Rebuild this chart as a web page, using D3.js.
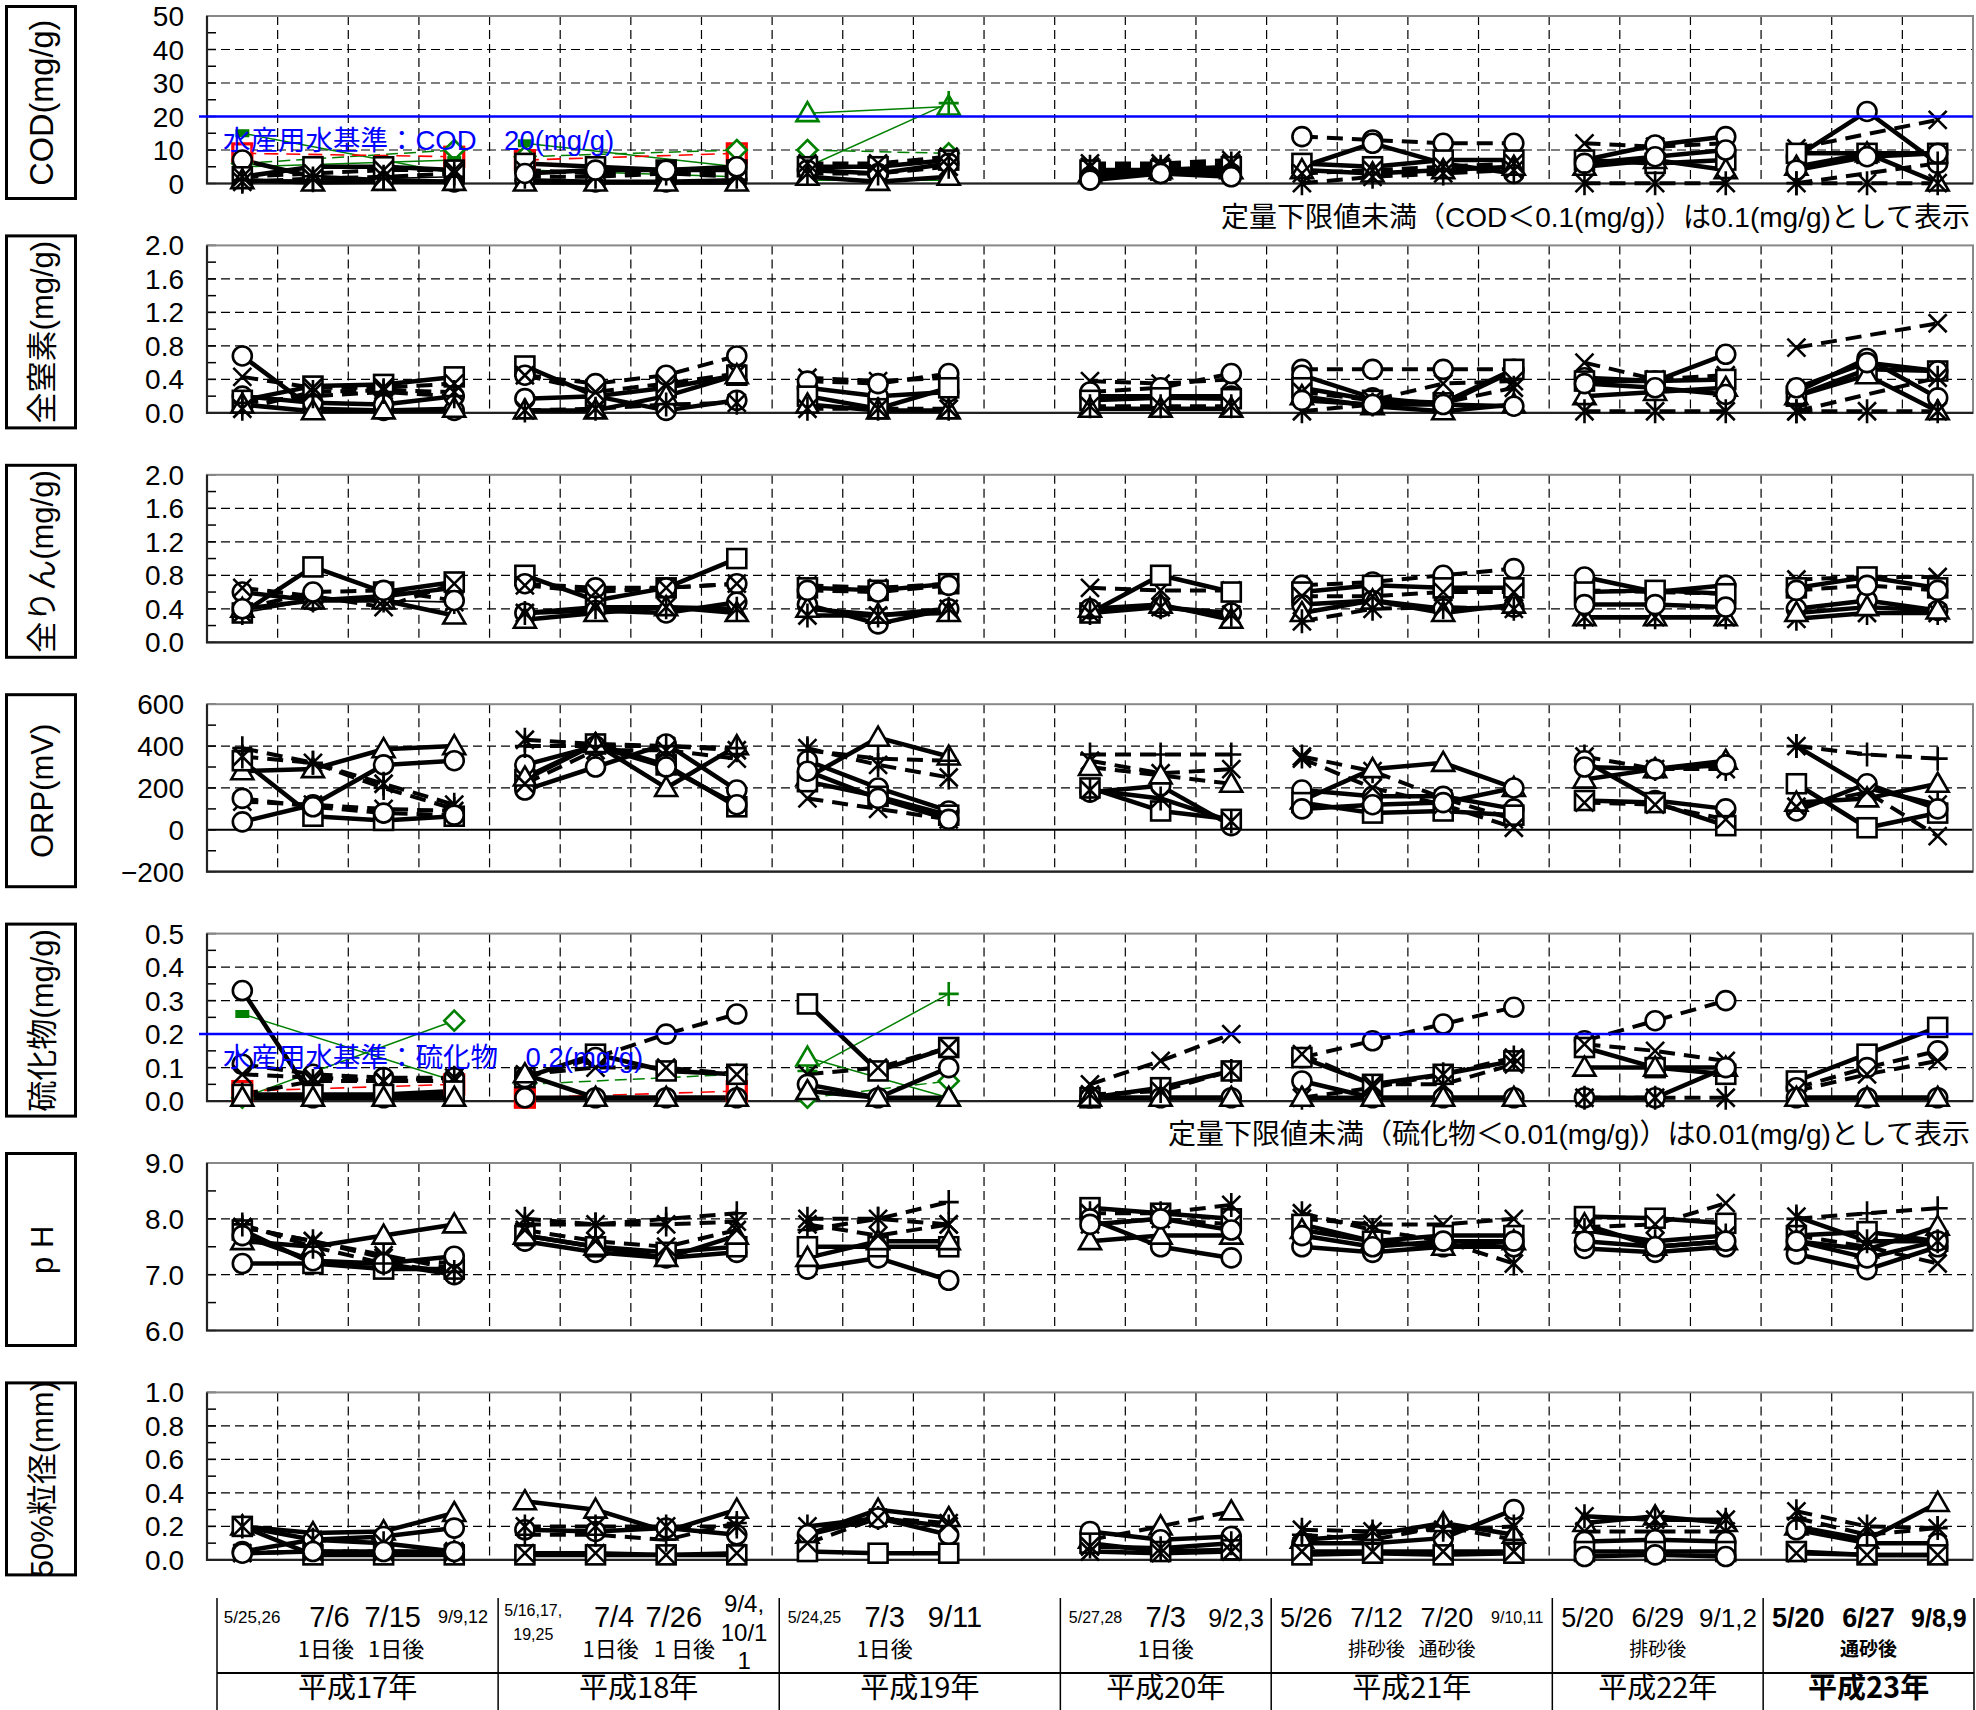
<!DOCTYPE html>
<html><head><meta charset="utf-8">
<script src="https://cdn.jsdelivr.net/npm/d3@7"></script>
<style>body{margin:0;background:#fff}svg{display:block}</style>
</head><body><svg id="c" width="1976" height="1710"></svg>
<script>
// ---------------- DATA ----------------
const years = ["平成17年","平成18年","平成19年","平成20年","平成21年","平成22年","平成23年"];
const yearCols = [[0,1,2,3],[4,5,6,7],[8,9,10],[12,13,14],[15,16,17,18],[19,20,21],[22,23,24]];
const yearSpan = [[0,4],[4,8],[8,12],[12,15],[15,19],[19,22],[22,25]];
const panelTitles = ["COD(mg/g)","全窒素(mg/g)","全りん(mg/g)","ORP(mV)","硫化物(mg/g)","p H","50%粒径(mm)"];
const panelDomains = [[0,50],[0,2],[0,2],[-200,600],[0,0.5],[6,9],[0,1]];
const panelSteps = [10,0.4,0.4,200,0.1,1,0.2];
const panelFormats = ["d",".1f",".1f","d",".1f",".1f",".1f"];
// date labels: column (table units), text, size, baseline row, bold
const dateLabels = [
 [0,"5/25,26",17,1623,0],[1.1,"7/6",29,1627,0],[2,"7/15",29,1627,0],[3,"9/9,12",18,1623,0],
 [4,"5/16,17,",16,1616,0],[4,"19,25",16,1640,0],[5.15,"7/4",29,1627,0],[6,"7/26",29,1627,0],
 [7,"9/4,",24,1612,0],[7,"10/1",24,1641,0],[7,"1",24,1669,0],
 [8,"5/24,25",16,1623,0],[9,"7/3",29,1627,0],[10,"9/11",29,1627,0],
 [12,"5/27,28",16,1623,0],[13,"7/3",29,1627,0],[14,"9/2,3",25,1627,0],
 [15,"5/26",27,1627,0],[16,"7/12",27,1627,0],[17,"7/20",27,1627,0],[18,"9/10,11",16,1623,0],
 [19,"5/20",27,1627,0],[20,"6/29",27,1627,0],[21,"9/1,2",26,1627,0],
 [22,"5/20",27,1627,1],[23,"6/27",27,1627,1],[24,"9/8,9",25,1627,1]
];
const subLabels = [
 [1.05,"1日後",22,1657,0],[2.05,"1日後",22,1657,0],
 [5.1,"1日後",22,1657,0],[6.15,"1 日後",22,1657,0],
 [9,"1日後",22,1657,0],[13,"1日後",22,1657,0],
 [16,"排砂後",19,1656,0],[17,"通砂後",19,1656,0],
 [20,"排砂後",19,1656,0],[23,"通砂後",19,1656,1]
];
// series: [yearIndex, marker, style, values]
const codSeries = [
 [0,"s","R",[9,null,null,8]],[0,"d","GD",[6,null,null,10]],[0,"g","G",[15,null,null,3]],[0,"g","G",[5,null,null,7]],
 [0,"o","S",[7,2,1,0.5]],[0,"s","S",[2,5,5,4]],[0,"t","S",[1,0.3,0.5,0.5]],[0,"x","D",[2,3,4,4]],[0,"a","D",[0.5,1.5,2,3]],[0,"p","T",[1,1,1.5,2]],
 [1,"s","R",[7,null,null,9]],[1,"d","GD",[8,null,null,10]],[1,"g","G",[12,null,null,5]],[1,"g","G",[4,null,null,2]],
 [1,"o","S",[1,0.5,0.5,1]],[1,"s","S",[6,5,4,4]],[1,"t","S",[0.3,0.3,0.3,0.3]],[1,"x","D",[4,3,4,3]],[1,"a","D",[2,2,3,2]],[1,"o","S",[3,4,4,5]],
 [2,"t","G",[21,null,23]],[2,"p","G",[5,null,24]],[2,"d","GD",[10,null,9]],[2,"g","G",[1,null,1]],
 [2,"s","S",[5,5,7]],[2,"o","S",[4,3,6]],[2,"t","S",[2,0.5,2]],[2,"x","D",[6,6,8]],[2,"a","D",[3,3,5]],
 [3,"x","D",[6,6,7]],[3,"s","S",[4,4,5]],[3,"o","S",[2,3,3]],[3,"t","S",[3,4,4]],[3,"a","D",[5,5,6]],[3,"o","S",[1,3,2]],
 [4,"o","D",[14,13,12,12]],[4,"o","S",[5,12,6,3]],[4,"s","S",[6,5,7,7]],[4,"t","S",[4,3,4,5]],[4,"x","D",[3,4,5,6]],[4,"a","D",[0.1,2,3,4]],
 [5,"x","D",[12,11,12]],[5,"o","S",[7,11.5,14]],[5,"s","S",[7,6,7]],[5,"t","S",[5,7,4]],[5,"o","S",[6,8,10]],[5,"a","D",[0.1,0.1,0.1]],
 [6,"o","S",[8,21.5,6]],[6,"x","D",[10.5,null,19]],[6,"s","S",[9,9,9]],[6,"t","S",[5,9,0.3]],[6,"o","S",[4,8,9]],[6,"a","D",[0.1,0.1,0.1]],[6,"p","D",[0.1,null,6]]
];
const tnSeries = [
 [0,"o","S",[0.68,0.05,0.03,0.03]],[0,"o","S",[0.2,0.12,0.1,0.2]],[0,"s","S",[0.15,0.32,0.34,0.43]],[0,"t","S",[0.1,0.02,0.03,0.05]],[0,"x","D",[0.43,0.3,0.3,0.35]],[0,"a","D",[0.05,0.25,0.27,0.25]],[0,"p","D",[0.12,0.2,0.25,0.2]],
 [1,"s","S",[0.56,0.2,0.3,0.45]],[1,"o","S",[0.17,0.2,0.03,0.15]],[1,"o","D",[0.45,0.35,0.45,0.68]],[1,"x","D",[0.45,0.25,0.35,0.47]],[1,"t","S",[0.03,0.03,0.2,0.45]],[1,"a","D",[0.03,0.05,0.1,0.12]],
 [2,"x","D",[0.42,0.38,0.42]],[2,"o","S",[0.3,0.2,0.25]],[2,"o","D",[0.38,0.35,0.47]],[2,"s","S",[0.2,0.05,0.3]],[2,"t","S",[0.1,0.03,0.03]],[2,"a","D",[0.05,0.05,0.05]],
 [3,"x","D",[0.38,0.35,0.4]],[3,"o","S",[0.2,0.2,0.2]],[3,"o","D",[0.25,0.3,0.47]],[3,"s","S",[0.15,0.18,0.17]],[3,"t","S",[0.05,0.05,0.05]],[3,"a","D",[0.08,0.08,0.08]],
 [4,"o","D",[0.52,0.52,0.52,0.52]],[4,"o","S",[0.45,0.18,0.1,0.5]],[4,"s","S",[0.3,0.15,0.12,0.52]],[4,"t","S",[0.2,0.08,0.02,0.1]],[4,"x","D",[0.25,0.15,0.35,0.38]],[4,"a","D",[0.02,0.1,0.12,0.3]],[4,"o","S",[0.15,0.1,0.1,0.08]],
 [5,"x","D",[0.6,0.4,0.45]],[5,"o","S",[0.42,0.38,0.7]],[5,"s","S",[0.38,0.38,0.4]],[5,"t","S",[0.2,0.25,0.3]],[5,"o","S",[0.35,0.3,0.22]],[5,"a","D",[0.02,0.02,0.02]],
 [6,"x","D",[0.78,null,1.07]],[6,"o","S",[0.25,0.65,0.18]],[6,"s","S",[0.2,0.52,0.5]],[6,"t","S",[0.2,0.45,0.02]],[6,"o","S",[0.3,0.6,0.5]],[6,"a","D",[0.02,null,0.42]],[6,"a","D",[0.02,0.02,0.02]]
];
const tpSeries = [
 [0,"o","S",[0.6,0.5,0.55,0.65]],[0,"s","S",[0.35,0.9,0.6,0.72]],[0,"t","S",[0.4,0.5,0.5,0.32]],[0,"x","D",[0.65,0.55,0.42,0.7]],[0,"a","T",[0.35,0.5,0.5,0.48]],[0,"o","D",[0.4,0.6,0.62,0.5]],
 [1,"s","S",[0.8,0.5,0.65,1.0]],[1,"o","D",[0.7,0.65,0.65,0.7]],[1,"x","D",[0.68,0.6,0.65,0.7]],[1,"o","S",[0.35,0.38,0.35,0.48]],[1,"t","S",[0.27,0.35,0.42,0.35]],[1,"a","S",[0.35,0.42,0.42,0.4]],
 [2,"x","D",[0.68,0.65,0.7]],[2,"s","S",[0.65,0.62,0.7]],[2,"o","S",[0.45,0.22,0.4]],[2,"t","S",[0.4,0.33,0.35]],[2,"a","S",[0.32,0.32,0.4]],[2,"o","D",[0.62,0.6,0.68]],
 [3,"x","D",[0.65,0.62,0.62]],[3,"s","S",[0.35,0.8,0.6]],[3,"o","S",[0.4,0.42,0.35]],[3,"t","S",[0.4,0.45,0.27]],[3,"a","S",[0.35,0.42,0.33]],
 [4,"o","D",[0.68,0.72,0.8,0.88]],[4,"s","S",[0.6,0.68,0.65,0.65]],[4,"o","S",[0.45,0.5,0.4,0.42]],[4,"t","S",[0.35,0.5,0.35,0.45]],[4,"a","D",[0.25,0.4,0.42,0.4]],[4,"x","D",[0.55,0.55,0.6,0.6]],
 [5,"o","S",[0.78,0.6,0.68]],[5,"x","D",[0.62,0.6,0.58]],[5,"s","S",[0.6,0.62,0.58]],[5,"t","S",[0.3,0.3,0.3]],[5,"a","S",[0.3,0.3,0.3]],[5,"o","S",[0.45,0.45,0.42]],
 [6,"x","D",[0.75,0.78,0.78]],[6,"s","S",[0.65,0.78,0.65]],[6,"o","S",[0.4,0.5,0.38]],[6,"a","S",[0.28,0.35,0.35]],[6,"t","S",[0.35,0.42,0.38]],[6,"o","D",[0.62,0.68,0.62]]
];
const orpSeries = [
 [0,"t","S",[280,290,385,400]],[0,"o","S",[38,120,310,330]],[0,"s","S",[330,65,45,65]],[0,"a","D",[350,320,220,120]],[0,"p","D",[390,320,200,100]],[0,"x","D",[135,120,100,90]],[0,"o","D",[150,110,80,70]],
 [1,"a","D",[430,410,400,380]],[1,"s","S",[240,410,310,110]],[1,"o","S",[190,300,410,190]],[1,"o","S",[310,400,300,120]],[1,"t","S",[250,410,200,400]],[1,"x","D",[220,380,380,340]],[1,"p","D",[400,400,400,390]],
 [2,"a","D",[390,310,250]],[2,"t","S",[250,440,350]],[2,"o","S",[330,200,90]],[2,"s","S",[230,160,70]],[2,"x","D",[150,100,50]],[2,"o","S",[280,150,50]],[2,"p","D",[380,340,330]],
 [3,"p","D",[360,360,360]],[3,"x","D",[330,270,290]],[3,"o","S",[180,210,20]],[3,"s","S",[200,90,50]],[3,"t","D",[300,260,220]],[3,"a","S",[190,150,40]],
 [4,"a","D",[350,280,150,50]],[4,"t","S",[140,290,320,200]],[4,"o","S",[190,160,160,100]],[4,"s","S",[130,80,90,70]],[4,"x","D",[340,200,120,10]],[4,"o","S",[100,120,130,200]],
 [5,"a","D",[350,290,290]],[5,"t","S",[240,290,330]],[5,"o","S",[330,140,100]],[5,"s","S",[140,130,20]],[5,"x","D",[130,120,50]],[5,"o","S",[300,290,310]],
 [6,"p","D",[400,360,340]],[6,"a","S",[400,200,120]],[6,"s","S",[220,10,80]],[6,"o","S",[90,220,100]],[6,"t","S",[130,150,220]],[6,"x","D",[110,180,-30]]
];
const sulSeries = [
 [0,"s","R",[0.03,null,null,0.05]],[0,"g","G",[0.26,null,null,0.06]],[0,"d","G",[0.01,null,null,0.24]],
 [0,"o","S",[0.33,0.01,0.01,0.02]],[0,"o","D",[0.11,0.08,0.07,0.07]],[0,"x","D",[0.08,0.07,0.06,0.06]],[0,"a","D",[0.02,0.06,0.06,0.07]],[0,"s","S",[0.02,0.02,0.02,0.03]],[0,"t","S",[0.01,0.01,0.01,0.01]],
 [1,"d","GD",[0.05,null,null,0.08]],[1,"s","R",[0.01,null,null,0.03]],
 [1,"s","S",[0.07,0.14,0.09,0.08]],[1,"o","D",[0.07,0.13,0.2,0.26]],[1,"x","D",[0.08,0.1,0.1,0.08]],[1,"o","S",[0.01,0.01,0.01,0.01]],[1,"t","S",[0.08,0.01,0.01,0.01]],
 [2,"p","G",[0.09,null,0.32]],[2,"t","G",[0.13,null,0.01]],[2,"d","GD",[0.01,null,0.06]],
 [2,"s","S",[0.29,0.09,0.16]],[2,"x","D",[0.08,0.1,0.16]],[2,"o","S",[0.05,0.01,0.1]],[2,"t","S",[0.03,0.01,0.01]],
 [3,"x","D",[0.05,0.12,0.2]],[3,"s","S",[0.01,0.04,0.09]],[3,"o","S",[0.01,0.01,0.01]],[3,"t","S",[0.01,0.01,0.01]],[3,"a","D",[0.02,0.03,0.09]],
 [4,"o","D",[0.13,0.18,0.23,0.28]],[4,"s","S",[0.13,0.05,0.08,0.12]],[4,"o","S",[0.06,0.01,0.01,0.01]],[4,"x","D",[0.14,0.05,0.05,0.11]],[4,"a","D",[0.01,0.04,0.08,0.13]],[4,"t","S",[0.01,0.01,0.01,0.01]],
 [5,"o","D",[0.18,0.24,0.3]],[5,"s","S",[0.16,0.1,0.08]],[5,"t","S",[0.1,0.1,0.1]],[5,"x","D",[0.17,0.15,0.12]],[5,"o","S",[0.01,0.01,0.1]],[5,"a","D",[0.01,0.01,0.01]],
 [6,"s","S",[0.06,0.14,0.22]],[6,"o","D",[0.04,0.1,0.15]],[6,"x","D",[0.03,0.08,0.12]],[6,"o","S",[0.01,0.01,0.01]],[6,"t","S",[0.01,0.01,0.01]]
];
const phSeries = [
 [0,"t","S",[7.6,7.5,7.7,7.9]],[0,"o","S",[7.2,7.2,7.2,7.0]],[0,"s","S",[7.8,7.2,7.1,7.1]],[0,"x","D",[7.85,7.6,7.3,7.2]],[0,"a","D",[7.85,7.6,7.35,7.1]],[0,"o","S",[7.7,7.25,7.2,7.33]],[0,"p","D",[7.9,7.5,7.2,7.05]],
 [1,"a","D",[8.0,7.9,7.9,7.95]],[1,"p","D",[7.9,7.9,8.0,8.1]],[1,"o","S",[7.6,7.4,7.3,7.4]],[1,"s","S",[7.7,7.5,7.4,7.5]],[1,"t","S",[7.7,7.5,7.3,7.7]],[1,"x","D",[7.8,7.6,7.5,7.8]],
 [2,"a","D",[8.0,8.0,7.9]],[2,"p","D",[7.8,8.0,8.3]],[2,"o","S",[7.1,7.3,6.9]],[2,"s","S",[7.5,7.5,7.5]],[2,"t","S",[7.3,7.6,7.6]],[2,"x","D",[7.9,7.7,7.9]],
 [3,"s","S",[8.2,8.1,8.0]],[3,"a","D",[8.1,8.1,8.25]],[3,"o","S",[8.0,7.5,7.3]],[3,"t","S",[7.6,7.7,7.7]],[3,"x","D",[7.9,8.0,7.9]],[3,"o","S",[7.9,8.0,7.8]],
 [4,"a","D",[8.1,7.8,7.6,7.2]],[4,"x","D",[8.0,7.9,7.9,8.0]],[4,"o","S",[7.5,7.4,7.5,7.5]],[4,"s","S",[7.9,7.6,7.7,7.7]],[4,"t","S",[7.8,7.6,7.5,7.6]],[4,"o","S",[7.7,7.5,7.6,7.6]],
 [5,"s","S",[8.04,8.01,7.92]],[5,"x","D",[7.85,7.9,8.28]],[5,"o","S",[7.47,7.4,7.5]],[5,"t","S",[7.9,7.5,7.6]],[5,"a","S",[7.8,7.6,7.7]],[5,"o","S",[7.6,7.5,7.6]],
 [6,"p","D",[8.0,8.1,8.19]],[6,"s","S",[7.7,7.77,7.6]],[6,"o","S",[7.37,7.09,7.5]],[6,"t","S",[7.6,7.45,7.86]],[6,"x","D",[7.7,7.5,7.2]],[6,"o","S",[7.6,7.3,7.6]],[6,"a","S",[8.04,7.6,7.6]]
];
const d50Series = [
 [0,"t","S",[0.2,0.16,0.17,0.28]],[0,"o","S",[0.05,0.12,0.14,0.19]],[0,"s","S",[0.2,0.03,0.03,0.03]],[0,"x","D",[0.04,0.05,0.05,0.05]],[0,"a","S",[0.2,0.12,0.1,0.05]],[0,"o","S",[0.04,0.05,0.05,0.05]],
 [1,"t","S",[0.35,0.3,0.17,0.3]],[1,"o","S",[0.18,0.17,0.19,0.15]],[1,"s","S",[0.03,0.03,0.03,0.03]],[1,"a","D",[0.2,0.2,0.2,0.2]],[1,"x","S",[0.04,0.04,0.03,0.04]],[1,"p","D",[0.15,0.15,0.12,0.22]],
 [2,"t","S",[0.15,0.3,0.25]],[2,"a","S",[0.2,0.25,0.2]],[2,"o","S",[0.15,0.25,0.15]],[2,"s","S",[0.05,0.04,0.04]],[2,"x","D",[0.1,0.25,0.22]],
 [3,"t","D",[0.12,0.2,0.29]],[3,"o","S",[0.17,0.12,0.14]],[3,"s","S",[0.1,0.05,0.06]],[3,"x","S",[0.05,0.04,0.05]],[3,"a","S",[0.08,0.07,0.1]],
 [4,"o","S",[0.1,0.1,0.13,0.3]],[4,"t","S",[0.12,0.15,0.22,0.15]],[4,"a","D",[0.18,0.17,0.18,0.2]],[4,"s","S",[0.03,0.04,0.03,0.04]],[4,"x","S",[0.05,0.05,0.05,0.05]],[4,"p","D",[0.15,0.12,0.2,0.12]],
 [5,"t","S",[0.22,0.26,0.22]],[5,"a","S",[0.26,0.24,0.24]],[5,"x","D",[0.17,0.17,0.17]],[5,"o","S",[0.11,0.12,0.11]],[5,"s","S",[0.05,0.05,0.05]],[5,"o","S",[0.02,0.03,0.02]],
 [6,"a","D",[0.29,0.2,0.19]],[6,"t","S",[0.2,0.12,0.34]],[6,"o","S",[0.18,0.1,0.1]],[6,"s","S",[0.05,0.03,0.03]],[6,"x","S",[0.04,0.03,0.03]],[6,"p","D",[0.25,0.15,0.19]]
];
const panelSeries = [codSeries,tnSeries,tpSeries,orpSeries,sulSeries,phSeries,d50Series];
const standards = [{panel:0,value:20,text:"水産用水基準：COD　20(mg/g)"},{panel:4,value:0.2,text:"水産用水基準：硫化物　0.2(mg/g)"}];
const notes = [{panel:0,text:"定量下限値未満（COD＜0.1(mg/g)）は0.1(mg/g)として表示"},{panel:4,text:"定量下限値未満（硫化物＜0.01(mg/g)）は0.01(mg/g)として表示"}];

// ---------------- LAYOUT ----------------
const FONT = "'Liberation Sans', Arial, 'Noto Sans CJK JP', sans-serif";
const JFONT = "'Noto Sans CJK JP', sans-serif";
const svg = d3.select("#c");
const PL = 207, PR = 1973, PH = 167.5, PTOP = 16, PGAP = 229.4;
const x = d3.scaleBand().domain(d3.range(25)).range([PL, PR]);
const tx = d3.scaleLinear().domain([0, 25]).range([217, 1974]);
const colW = x.bandwidth();

const styles = {
  S: {c:"#000", w:4.5, d:null},
  D: {c:"#000", w:4, d:"16,9"},
  T: {c:"#000", w:1.6, d:null},
  G: {c:"#008000", w:1.5, d:null},
  GD:{c:"#008000", w:1.5, d:"12,6"},
  R: {c:"#ff0000", w:1.6, d:"14,8"}
};

function markerPath(t, cx, cy){
  switch(t){
    case "t": return `M${cx},${cy-11}L${cx+11},${cy+8}L${cx-11},${cy+8}Z`;
    case "x": return `M${cx-9},${cy-9}L${cx+9},${cy+9}M${cx-9},${cy+9}L${cx+9},${cy-9}`;
    case "a": return `M${cx-9},${cy-9}L${cx+9},${cy+9}M${cx-9},${cy+9}L${cx+9},${cy-9}M${cx},${cy-12}L${cx},${cy+12}`;
    case "p": return `M${cx-10},${cy}L${cx+10},${cy}M${cx},${cy-12}L${cx},${cy+12}`;
    case "d": return `M${cx},${cy-10}L${cx+10},${cy}L${cx},${cy+10}L${cx-10},${cy}Z`;
  }
  return "";
}
function drawMarker(g, t, cx, cy, color, sw){
  if (t === "o") {
    g.append("circle").attr("cx",cx).attr("cy",cy).attr("r",9.5).attr("fill","#fff").attr("stroke",color).attr("stroke-width",sw);
  } else if (t === "s") {
    g.append("rect").attr("x",cx-9.5).attr("y",cy-9.5).attr("width",19).attr("height",19).attr("fill","#fff").attr("stroke",color).attr("stroke-width",sw);
  } else if (t === "g") {
    g.append("rect").attr("x",cx-7).attr("y",cy-4).attr("width",14).attr("height",8).attr("fill",color);
  } else {
    const fill = (t==="t"||t==="d") ? "#fff" : "none";
    g.append("path").attr("d",markerPath(t,cx,cy)).attr("fill",fill).attr("stroke",color).attr("stroke-width",sw);
  }
}

panelSeries.forEach((series, pi) => {
  const top = PTOP + pi*PGAP, bot = top + PH;
  const dom = panelDomains[pi], step = panelSteps[pi];
  const y = d3.scaleLinear().domain(dom).range([bot, top]);
  const g = svg.append("g");
  const fmt = d3.format(panelFormats[pi]);
  const majors = d3.range(dom[0], dom[1] + step/2, step).map(v => +v.toFixed(6));
  const minors = d3.range(dom[0] + step/2, dom[1], step).map(v => +v.toFixed(6));

  // label box
  g.append("rect").attr("x",6.5).attr("y",top-9.5).attr("width",69).attr("height",PH+24.5)
    .attr("fill","none").attr("stroke","#000").attr("stroke-width",3);
  g.append("text").attr("transform",`translate(42,${top + PH/2 + 3}) rotate(-90)`)
    .attr("text-anchor","middle").attr("dominant-baseline","central")
    .attr("font-family",FONT).attr("font-size", pi===0 ? 32.5 : 31).text(panelTitles[pi]);

  // gridlines
  majors.filter(v => v > dom[0] && v < dom[1]).forEach(v => {
    const solid = (pi === 3 && v === 0);
    g.append("line").attr("x1",PL).attr("x2",PR).attr("y1",y(v)).attr("y2",y(v))
      .attr("stroke","#000").attr("stroke-width", solid ? 2 : 1.2).attr("stroke-dasharray", solid ? null : "9,5");
  });
  d3.range(1,25).forEach(k => {
    const xv = x(k);
    g.append("line").attr("x1",xv).attr("x2",xv).attr("y1",top).attr("y2",bot)
      .attr("stroke","#000").attr("stroke-width",1.2).attr("stroke-dasharray","9,5");
  });
  // minor ticks
  minors.concat(majors).forEach(v => {
    g.append("line").attr("x1",PL).attr("x2",PL+9).attr("y1",y(v)).attr("y2",y(v)).attr("stroke","#000").attr("stroke-width",1.5);
  });
  // border
  g.append("rect").attr("x",PL).attr("y",top).attr("width",PR-PL).attr("height",PH)
    .attr("fill","none").attr("stroke","#888").attr("stroke-width",2);
  g.append("path").attr("d",`M${PL},${top}L${PL},${bot}L${PR},${bot}`).attr("fill","none").attr("stroke","#222").attr("stroke-width",2.2);

  // tick labels
  majors.forEach(v => {
    g.append("text").attr("x",184).attr("y",y(v)).attr("dy","0.36em").attr("text-anchor","end")
      .attr("font-family",FONT).attr("font-size",28).text(fmt(v));
  });

  // series lines
  const lineGen = d3.line().x(d => x(d.c) + colW/2).y(d => y(d.v));
  const order = ["G","GD","R","T","D","S"];
  order.forEach(st => {
    series.filter(s => s[2] === st).forEach(s => {
      const cols = yearCols[s[0]];
      const pts = s[3].map((v,i) => ({c: cols[i], v})).filter(p => p.v !== null);
      const sty = styles[st];
      g.append("path").attr("d", lineGen(pts)).attr("fill","none").attr("stroke",sty.c)
        .attr("stroke-width",sty.w).attr("stroke-dasharray",sty.d).attr("stroke-linejoin","round");
    });
  });
  // markers
  series.forEach(s => {
    const cols = yearCols[s[0]];
    const st = s[2];
    const color = (st==="G"||st==="GD") ? "#008000" : (st==="R" ? "#ff0000" : "#000");
    const sw = st==="R" ? 3.2 : 2.6;
    s[3].forEach((v,i) => {
      if (v === null) return;
      drawMarker(g, s[1], x(cols[i]) + colW/2, y(v), color, sw);
    });
  });

  // standards
  standards.filter(d => d.panel === pi).forEach(d => {
    g.append("line").attr("x1",199).attr("x2",PR).attr("y1",y(d.value)).attr("y2",y(d.value))
      .attr("stroke","#0000ff").attr("stroke-width",2.5);
    g.append("text").attr("x",223).attr("y",y(d.value)+33).attr("font-family",FONT)
      .attr("font-size",27.5).attr("fill","#0000ff").text(d.text);
  });
  // notes
  notes.filter(d => d.panel === pi).forEach(d => {
    g.append("text").attr("x",1970).attr("y",bot+43).attr("text-anchor","end")
      .attr("font-family",FONT).attr("font-size",28).text(d.text);
  });
});

// ---------------- TABLE ----------------
const tb = svg.append("g");
const bounds = [0].concat(yearSpan.map(s => s[1]));
bounds.forEach(b => {
  tb.append("line").attr("x1",tx(b)).attr("x2",tx(b)).attr("y1",1598).attr("y2",1710).attr("stroke","#000").attr("stroke-width",1.5);
});
tb.append("line").attr("x1",tx(0)).attr("x2",tx(25)).attr("y1",1673).attr("y2",1673).attr("stroke","#000").attr("stroke-width",2);
dateLabels.forEach(d => {
  tb.append("text").attr("x",tx(d[0]+0.5)).attr("y",d[3]).attr("text-anchor","middle")
    .attr("font-family",FONT).attr("font-size",d[2]).attr("font-weight",d[4]?"bold":"normal").text(d[1]);
});
subLabels.forEach(d => {
  tb.append("text").attr("x",tx(d[0]+0.5)).attr("y",d[3]).attr("text-anchor","middle")
    .attr("font-family",JFONT).attr("font-size",d[2]).attr("font-weight",d[4]?"bold":"normal").text(d[1]);
});
years.forEach((yname, i) => {
  const s = yearSpan[i];
  tb.append("text").attr("x",(tx(s[0])+tx(s[1]))/2).attr("y",1698).attr("text-anchor","middle")
    .attr("font-family",JFONT).attr("font-size",29).attr("font-weight", i===6?"bold":"normal").text(yname);
});
</script></body></html>
